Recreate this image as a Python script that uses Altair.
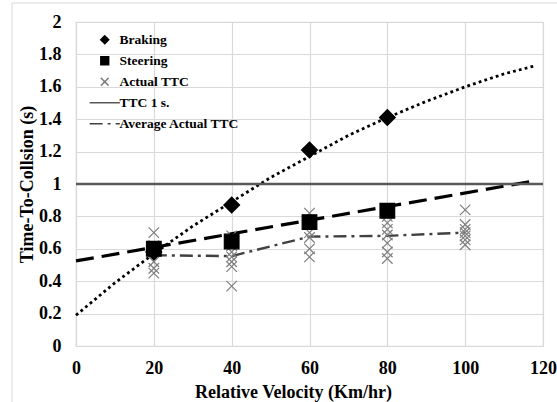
import altair as alt
import pandas as pd

# ---------------- data ----------------
x_ticks = [0, 20, 40, 60, 80, 100, 120]
y_ticks = [0, 0.2, 0.4, 0.6, 0.8, 1, 1.2, 1.4, 1.6, 1.8, 2]

legend_labels = ["Braking", "Steering", "Actual TTC", "TTC 1 s.", "Average Actual TTC"]

braking_x = [20, 40, 60, 80]
braking_y = [0.58, 0.87, 1.21, 1.41]

steering_x = [20, 40, 60, 80]
steering_y = [0.60, 0.645, 0.765, 0.835]

actual_x = [20, 20, 20, 20, 20, 20,
            40, 40, 40, 40, 40, 40, 40,
            60, 60, 60, 60, 60,
            80, 80, 80, 80, 80, 80, 80,
            100, 100, 100, 100, 100, 100, 100]
actual_y = [0.70, 0.62, 0.58, 0.52, 0.48, 0.45,
            0.68, 0.62, 0.58, 0.55, 0.52, 0.49, 0.37,
            0.82, 0.70, 0.67, 0.60, 0.55,
            0.80, 0.76, 0.72, 0.685, 0.635, 0.58, 0.54,
            0.84, 0.75, 0.72, 0.70, 0.68, 0.655, 0.625]

avg_x = [20, 40, 60, 80, 100]
avg_y = [0.56, 0.555, 0.675, 0.68, 0.70]

braking_trend_x = [0, 10, 20, 30, 40, 50, 60, 70, 80, 90, 100, 110, 118]
braking_trend_y = [0.19, 0.39, 0.57, 0.74, 0.89, 1.04, 1.17, 1.30, 1.41, 1.51, 1.60, 1.68, 1.73]

steering_trend_x = [0, 118]
steering_trend_y = [0.525, 1.02]

ttc_x = [0, 120]
ttc_y = [1, 1]

# ---------------- tables ----------------
actual = pd.DataFrame({"x": actual_x, "y": actual_y, "series": "Actual TTC"})
braking = pd.DataFrame({"x": braking_x, "y": braking_y, "series": "Braking"})
steering = pd.DataFrame({"x": steering_x, "y": steering_y, "series": "Steering"})
lines = pd.DataFrame({
    "x": ttc_x + avg_x,
    "y": ttc_y + avg_y,
    "series": ["TTC 1 s."] * len(ttc_x) + ["Average Actual TTC"] * len(avg_x),
})
btrend = pd.DataFrame({"x": braking_trend_x, "y": braking_trend_y})
strend = pd.DataFrame({"x": steering_trend_x, "y": steering_trend_y})
frame_df = pd.DataFrame({"k": [0]})

FONT = "Liberation Serif"
X_PATH = "M-1,-1L1,1M1,-1L-1,1"
LINE_PATH = "M-3.9,0L3.9,0"

xenc = alt.X("x:Q", scale=alt.Scale(domain=[0, 120], nice=False),
             axis=alt.Axis(values=x_ticks, format="d", title="Relative Velocity (Km/hr)",
                           labelFlush=False, labelPadding=13, titlePadding=6,
                           titleX=217, titleAlign="center"))
yenc = alt.Y("y:Q", scale=alt.Scale(domain=[0, 2], nice=False),
             axis=alt.Axis(values=y_ticks, format="~g", title="Time-To-Collsion (s)",
                           labelFlush=False, labelPadding=15, titlePadding=2))

legend = alt.Legend(
    title=None, orient="none", legendX=22, legendY=11, padding=0,
    labelFont=FONT, labelFontSize=13.5, labelFontWeight="bold", labelColor="black",
    symbolSize=60, symbolStrokeWidth=1.6, labelOffset=8, rowPadding=6,
)

shape_enc = alt.Shape("series:N", legend=legend,
                      scale=alt.Scale(domain=legend_labels,
                                      range=["diamond", "square", X_PATH, LINE_PATH, LINE_PATH]))
fill_enc = alt.Fill("series:N", legend=legend,
                    scale=alt.Scale(domain=legend_labels,
                                    range=["black", "black", "transparent", "transparent", "transparent"]))
stroke_enc = alt.Stroke("series:N", legend=legend,
                        scale=alt.Scale(domain=legend_labels,
                                        range=["black", "black", "#7f7f7f", "#595959", "#404040"]))
dash_enc = alt.StrokeDash("series:N", legend=legend,
                          scale=alt.Scale(domain=legend_labels,
                                          range=[[1, 0], [1, 0], [1, 0], [1, 0], [13, 5, 3, 5]]))

braking_line = alt.Chart(btrend).mark_line(color="black", strokeWidth=2.8, strokeDash=[2.8, 3.2])\
    .encode(x=xenc, y=yenc)
steering_line = alt.Chart(strend).mark_line(color="black", strokeWidth=3.2, strokeDash=[18, 8])\
    .encode(x=xenc, y=yenc)
ref_lines = alt.Chart(lines).mark_line(strokeWidth=2.4)\
    .encode(x=xenc, y=yenc, stroke=stroke_enc, strokeDash=dash_enc)


def point_layer(df, size):
    return alt.Chart(df).mark_point(size=size, strokeWidth=1.2, opacity=1)\
        .encode(x=xenc, y=yenc, shape=shape_enc, fill=fill_enc, stroke=stroke_enc)


actual_pts = point_layer(actual, 110)
braking_pts = point_layer(braking, 250)
steering_pts = point_layer(steering, 215)

frame = alt.layer(
    alt.Chart(frame_df).mark_rule(color="#d9d9d9", strokeWidth=1).encode(
        x=alt.value(-64), x2=alt.value(481), y=alt.value(-19)),
    alt.Chart(frame_df).mark_rule(color="#d9d9d9", strokeWidth=1).encode(
        x=alt.value(-64), y=alt.value(-19), y2=alt.value(380)),
)

chart = alt.layer(frame, braking_line, steering_line, ref_lines,
                  actual_pts, braking_pts, steering_pts).properties(
    width=467, height=324,
    padding={"left": 76, "top": 22, "right": 14, "bottom": 56},
    autosize=alt.AutoSizeParams(type="none"),
    background="white",
).configure_axis(
    labelFont=FONT, labelFontSize=18, labelFontWeight="bold", labelColor="black",
    titleFont=FONT, titleFontSize=18, titleFontWeight="bold", titleColor="black",
    domain=False, ticks=False, grid=True, gridColor="#d9d9d9", gridWidth=1.2,
).configure_view(stroke="#d9d9d9", strokeWidth=1.2)

chart.save("out.html", embed_options={"renderer": "svg", "actions": False})
